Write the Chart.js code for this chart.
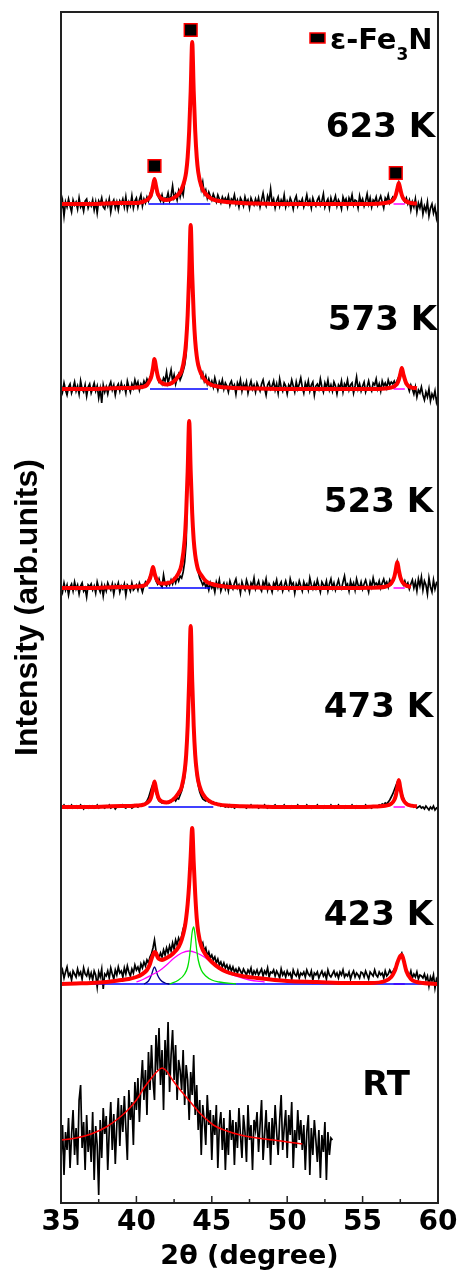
<!DOCTYPE html>
<html>
<head>
<meta charset="utf-8">
<title>XRD patterns</title>
<script src="https://cdn.jsdelivr.net/npm/chart.js@4/dist/chart.umd.min.js"></script>
<style>
  html, body { margin: 0; padding: 0; background: #fff; }
  canvas { display: block; }
</style>
</head>
<body>
<canvas id="xrd" width="461" height="1276"></canvas>
<script>
'use strict';

const panelLabels = ['623 K', '573 K', '523 K', '473 K', '423 K', 'RT'];
const legendText = ['ε-Fe', '3', 'N'];

// scans: 2θ from 35 in 0.1 steps, intensity above each pattern's baseline
const scanStart = 35, scanStep = 0.1;
const scan623 = [
  -6, 3, -12, 2, -3, 5, -2, -8, 4, -1,
  2, -5, 6, -3, 0, -7, 3, 5, -4, 1,
  -2, 4, -6, 2, -9, 3, 0, 6, -3, -5,
  3, -2, 5, -8, 1, 4, -4, 2, -6, 3,
  0, 5, -3, 7, -5, 2, -2, 8, -4, 3,
  6, -3, 4, 9, -2, 5, 1, 7, 3, 10,
  8, 15, 23, 17, 9, 6, 3, 9, 2, 6,
  5, 11, 3, 8, 18, 6, 10, 4, 13, 7,
  14, 9, 22, 30, 45, 70, 110, 160, 110, 70,
  45, 30, 26, 15, 22, 10, 14, 6, 12, 8,
  4, 10, 6, 2, 9, 5, 1, 7, 3, 6,
  2, 8, -1, 5, 3, 9, 0, 4, -3, 6,
  3, -2, 7, 1, 4, -4, 6, 2, -1, 5,
  0, 6, -3, 4, 11, 2, -2, 8, 3, 15,
  1, 5, -4, 3, 7, -2, 4, 0, 9, -3,
  3, -1, 6, 2, -5, 4, 8, -2, 3, 1,
  5, -3, 2, 9, 0, 4, -4, 6, 1, -2,
  4, 7, -1, 3, 10, -3, 2, 5, -4, 6,
  0, 3, 8, -2, 4, 1, -5, 7, 2, 5,
  -3, 6, 2, 9, -1, 4, 3, -4, 8, 1,
  5, -2, 3, 10, 0, 6, -3, 4, 2, 7,
  -1, 4, 8, 2, -4, 6, 3, 9, 1, 4,
  7, 5, 9, 14, 21, 13, 8, 5, 2, 6,
  0, 4, -6, 2, -3, 5, -8, 1, -4, 3,
  -10, -2, -7, 2, -12, -4, 0, -9, -3, -14,
  -6
];
const scan573 = [
  4, -3, 6, -1, -6, 2, 5, -4, 1, 7,
  -2, 3, -5, 8, 0, -3, 4, -7, 2, 5,
  -4, 1, 6, -2, 3, -9, 0, -14, 4, -3,
  2, -5, 3, 7, -1, 4, -6, 2, 5, -2,
  6, 0, 3, -4, 8, 2, -3, 5, 1, 9,
  3, 7, -1, 5, 2, 8, 4, 10, 6, 12,
  14, 20, 28, 21, 12, 7, 9, 5, 11, 8,
  17, 6, 12, 19, 8, 14, 5, 11, 15, 9,
  13, 18, 24, 35, 70, 112, 162, 112, 72, 46,
  33, 24, 20, 12, 16, 8, 13, 5, 10, 4,
  8, 2, 11, 5, -1, 7, 3, 9, 0, 6,
  3, -3, 5, 8, 1, 4, -5, 6, 2, 9,
  -2, 5, 1, 7, -4, 3, 8, 0, 4, -3,
  6, 2, -2, 5, 9, 1, -6, 4, 7, 0,
  3, 8, -1, 5, -4, 10, 2, -2, 6, 3,
  -5, 4, 1, 9, 3, -3, 7, 0, 5, 11,
  2, -4, 6, 1, 8, -2, 4, 7, -6, 3,
  5, 0, 10, 2, -3, 6, 1, 9, -1, 4,
  -2, 7, 3, -5, 4, 1, 8, -3, 5, 2,
  9, -1, 4, 6, -4, 3, 12, 0, 5, -2,
  3, 7, -3, 2, 8, 1, -2, 6, 4, 10,
  0, 5, -2, 8, 3, 6, 1, 9, 4, 7,
  5, 8, 4, 9, 12, 15, 20, 14, 8, 5,
  3, -2, 4, 0, -5, 2, -8, -1, -4, 2,
  -6, -11, -3, -8, 0, -12, -5, -9, -2, -13,
  -7
];
const scan523 = [
  2, -4, 5, -2, 3, -7, 1, 4, -3, 6,
  -1, 3, -6, 2, 5, -3, 0, -9, 3, 1,
  4, -2, 2, -5, 6, 0, -4, 3, -8, 2,
  -3, 5, 1, -2, 4, -6, 3, 0, 5, -4,
  2, -1, 4, -7, 3, 1, -3, 5, -2, 0,
  3, -2, 5, 1, -4, 2, 6, 3, 8, 12,
  14, 19, 12, 7, 4, 9, 3, 1, 13, 4,
  2, 6, 3, 8, 4, 9, 5, 11, 7, 12,
  10, 16, 26, 45, 112, 165, 112, 70, 44, 30,
  22, 16, 10, 7, 3, 6, 1, 4, -2, 5,
  0, 3, -4, 6, 1, 8, -3, 2, 5, -1,
  4, -3, 7, 2, -1, 5, 9, 0, 3, -5,
  6, 1, -2, 8, 3, -4, 5, 2, 10, -1,
  3, 7, 0, -3, 6, 2, 9, -2, 4, 1,
  -4, 5, 2, 8, -1, 3, 6, -3, 2, 7,
  1, -2, 9, 3, 5, -5, 4, 0, 7, 2,
  -3, 6, 1, 4, -2, 10, 3, -1, 5, 0,
  8, 2, -4, 6, 3, 1, 7, -3, 4, 9,
  0, 5, -2, 3, 8, 1, -1, 6, 12, 2,
  4, -3, 7, 1, 5, -2, 9, 3, 0, 6,
  -1, 4, 8, 2, -4, 6, 1, 10, 3, 5,
  2, 7, 0, 5, 9, 3, 6, 1, 8, 4,
  7, 10, 17, 26, 18, 11, 6, 3, 7, 2,
  5, -1, 4, 8, 0, 6, -3, 9, 2, 11,
  -2, 7, 3, -6, 10, 1, -4, 8, -1, 5,
  3
];
const scan473 = [
  1, 0, 2, 0, -1, 1, 0, 2, -1, 0,
  1, -1, 0, 2, 0, -2, 1, 0, -1, 1,
  0, 1, -1, 0, 2, -1, 0, 1, 0, -1,
  1, 0, 2, -1, 0, 1, -2, 0, 1, 0,
  0, 2, 0, -1, 1, 0, 1, -1, 0, 2,
  1, 0, 2, 1, 3, 2, 4, 6, 9, 14,
  19, 23, 21, 15, 9, 6, 5, 4, 5, 4,
  5, 4, 6, 5, 7, 8, 6, 9, 8, 12,
  16, 22, 30, 44, 76, 120, 178, 120, 76, 45,
  31, 22, 15, 11, 8, 7, 6, 7, 5, 6,
  4, 5, 3, 4, 2, 3, 1, 2, 1, 0,
  1, 0, 2, 0, 1, -1, 0, 1, 0, 1,
  0, 1, 0, -1, 1, 0, 2, 0, 1, 0,
  1, -1, 0, 1, 0, 2, 0, -1, 1, 0,
  0, 1, 2, 0, -1, 0, 1, 0, 2, 0,
  1, 0, -1, 1, 0, 1, 0, 2, 0, -1,
  0, 1, 0, 2, 0, 1, -1, 0, 1, 0,
  2, 0, 1, 0, -1, 1, 0, 1, 0, 2,
  0, -1, 1, 0, 2, 0, 1, 0, -1, 1,
  0, 1, 0, 2, 0, -1, 1, 0, 1, 0,
  1, 0, 2, 0, 1, 0, -1, 1, 0, 1,
  0, 2, 1, 3, 2, 4, 3, 5, 7, 10,
  13, 17, 21, 25, 26, 20, 14, 9, 6, 4,
  3, 2, 1, 2, 0, 1, -1, 0, 1, -1,
  0, -2, 1, -1, -3, 0, -2, 1, -3, -1,
  -2
];
const scan423 = [
  9, 14, 6, 12, 17, 8, 11, 4, 13, 10,
  7, 15, 9, 12, 5, 16, 10, 8, 14, 6,
  11, 4, 13, 9, -3, 12, 7, 15, -5, 10,
  8, 13, 6, 16, 10, 5, 14, 9, 17, 11,
  13, 7, 16, 10, 18, 12, 8, 15, 11, 19,
  14, 17, 12, 20, 16, 22, 18, 24, 21, 27,
  30, 36, 44, 33, 29, 26, 31, 27, 34, 29,
  36, 31, 38, 33, 41, 35, 44, 39, 46, 42,
  48, 55, 60, 68, 84, 104, 130, 154, 118, 84,
  64, 52, 44, 38, 41, 33, 36, 28, 32, 26,
  29, 24, 27, 21, 25, 19, 22, 17, 21, 16,
  19, 14, 18, 13, 17, 12, 15, 11, 16, 13,
  10, 15, 12, 9, 14, 11, 16, 8, 13, 10,
  14, 9, 12, 15, 8, 13, 10, 16, 7, 12,
  11, 14, 8, 13, 10, 6, 15, 9, 12, 7,
  13, 9, 11, 5, 14, 10, 8, 13, 6, 11,
  9, 12, 7, 14, 10, 8, 13, 4, 11, 9,
  12, 6, 10, 13, 8, 11, 5, 14, 9, 7,
  10, 13, 8, 11, 6, 12, 9, 14, 7, 10,
  8, 12, 5, 10, 13, 7, 11, 9, 6, 12,
  11, 7, 13, 9, 5, 12, 10, 8, 14, 9,
  7, 12, 9, 11, 6, 13, 8, 10, 14, 11,
  12, 15, 17, 21, 24, 28, 31, 26, 19, 14,
  11, 8, 13, 6, 10, 7, 12, 5, 9, 8,
  6, 10, 4, 8, -2, 7, 3, 9, -4, 5,
  2
];
const scanRT = [
  -20, 15, -35, 8, -10, 22, -28, 5, 30, -15,
  12, -25, 40, 55, -8, 18, -30, 25, -12, 10,
  -22, 28, -40, 14, -5, -55, 20, -18, 32, 6,
  24, -30, 10, 38, -10, 26, -24, 15, 42, -6,
  35, 8, 44, 12, -20, 50, 20, 38, -5, 58,
  30, 62, 18, 55, 80, 40, 70, 25, 88, 50,
  95, 60, 40, 105, 70, 112, 55, 90, 30, 100,
  65, 118, 48, 85, 110, 60, 95, 40, 80, 70,
  50, 90, 35, 75, 60, 20, 68, 45, 85, 25,
  55, 10, 40, -15, 35, 20, -5, 45, 15, 30,
  -20, 25, 5, 35, -28, 15, 28, -10, 22, -30,
  12, -15, 30, 0, 20, -25, 18, -8, 32, 5,
  -18, 25, 8, -22, 35, 0, 15, -30, 20, 10,
  28, -12, 15, 40, -20, 5, 30, -8, 18, -25,
  22, -5, 35, 8, -15, 20, 45, -10, 12, 30,
  -18, 25, 5, 38, -28, 10, -8, 30, 0, 20,
  -10, 15, -30, 8, 25, -35, 12, -15, 20, 0,
  -22, 10, -38, 5, -12, 18, -40, 8, -15, 2,
  0
];

// fitted profiles (red)
const fitX = [
  35, 36, 37, 38, 39, 39.5, 40, 40.4, 40.7, 40.9,
  41.0, 41.1, 41.2, 41.3, 41.4, 41.5, 41.7, 42.0, 42.4, 42.8,
  43.0, 43.2, 43.3, 43.4, 43.5, 43.6, 43.7, 43.8, 43.9, 44.0,
  44.1, 44.3, 44.6, 45.0, 45.5, 46, 47, 48, 50, 52,
  54, 55.5, 56.5, 56.9, 57.1, 57.2, 57.3, 57.4, 57.5, 57.6,
  57.7, 57.9, 58.2, 58.6, 59, 60
];
const fit623 = [
  0, 0, 0, 0.5, 1, 1, 1, 2, 4, 7,
  11, 18, 25, 18, 11, 8, 5, 4, 5.5, 10,
  15, 24, 32, 47, 73, 113, 162, 113, 73, 47,
  32, 18, 10, 5, 3, 2, 1, 0.5, 0, 0,
  0, 0, 1, 2.5, 5.5, 9, 15, 21, 15, 9,
  5.5, 2.5, 1, 0.5, null, null
];
const fit573 = [
  0, 0, 0, 0.5, 1, 1, 1.5, 2, 4, 9,
  13, 21, 30, 22, 14, 9, 6, 4.5, 6.5, 13,
  18, 33, 48, 74, 115, 164, 115, 74, 48, 33,
  24, 15, 8, 4, 2.2, 1.4, 0.7, 0.5, 0, 0,
  0, 0, 0.6, 1.5, 2.5, 3.8, 5.5, 9, 15, 21,
  15, 5.5, 1.8, 0.7, null, null
];
const fit523 = [
  0, 0, 0, 0.5, 1, 1, 1.5, 2, 4.5, 9.5,
  15, 21, 15, 10, 7, 5, 4.5, 4.7, 7, 15,
  24, 48, 75, 117, 167, 117, 75, 48, 33, 24,
  18, 13, 7, 4, 2.2, 1.3, 0.7, 0.4, 0, 0,
  0, 0.3, 1.3, 4.7, 11, 18, 26, 18, 11, 7,
  4.7, 2.3, 1.1, null, null, null
];
const fit473 = [
  0, 0, 0, 0.5, 1, 1, 1.5, 2, 4, 7,
  11, 18, 25.5, 18.5, 12, 8, 5.5, 4.5, 7, 14,
  20, 36, 52, 81, 127, 181, 127, 81, 52, 36,
  26, 16, 9, 4.5, 2.4, 1.5, 0.8, 0.5, 0, 0,
  0, 0.3, 1.2, 3.2, 7, 11.3, 19, 27, 19, 11.3,
  7, 3.2, 1.4, 0.7, null, null
];
const fit423 = [
  0, 0.5, 1, 2, 4, 5, 7, 10, 14, 20,
  25, 29, 32, 31, 27, 25, 24, 26, 30, 37,
  44, 56, 66, 80, 100, 128, 156, 122, 90, 66,
  52, 38, 29, 22, 16, 12, 8, 6, 3, 2,
  1, 1, 3, 7, 12, 16, 21, 25, 28, 29,
  25, 13, 5, 2, 1, 0
];
const rtFitX = [35, 36, 37, 38, 39, 39.5, 40, 40.5, 41, 41.4, 41.7, 42, 42.4, 42.8, 43.3, 43.8, 44.2, 44.7, 45.1, 46, 46.9, 48, 49.1, 50, 51];
const rtFit = [0, 2, 6, 13, 24, 31, 40, 52, 62, 69, 72, 69, 60, 52, 43, 34, 27, 20, 15, 9, 5, 2, 0, -2, -4];

// 423 K components
const green423X = [42.2, 42.8, 43.2, 43.4, 43.5, 43.6, 43.7, 43.8, 43.9, 44.0, 44.1, 44.3, 44.6, 45.0, 45.5, 46.6];
const green423 = [0, 4, 10, 17, 25, 38, 52, 57, 48, 34, 24, 14, 8, 4, 2, 0];
const magenta423X = [40.0, 40.5, 41.0, 41.5, 42.0, 42.5, 43.0, 43.5, 44.0, 44.5, 45.0, 45.5, 46.0, 46.8, 47.5, 48.5];
const magenta423 = [2, 5, 9, 13, 19, 26, 31, 33, 31, 27, 21, 15, 11, 7, 4, 2];
const navy423X = [40.5, 40.8, 41.0, 41.1, 41.2, 41.3, 41.4, 41.6, 41.9, 42.2];
const navy423 = [0, 3, 9, 14, 17, 14, 9, 4, 1, 0];

// background ranges (blue) and right-peak background (magenta)
const bgRanges = [[40.8, 44.9], [40.9, 44.75], [40.8, 44.9], [40.8, 45.1], [36.9, 60]];
const bgRight = [57.05, 57.8];

// ε-Fe3N reflections marked on the 623 K pattern
const peakX = [41.2, 43.6, 57.2];
const peakY = [38, 174, 31];

// vertical stacking of the patterns
const panelOffsets = [999, 814, 615, 396, 219, 63];
const scans = [scan623, scan573, scan523, scan473, scan423];
const fits = [fit623, fit573, fit523, fit473, fit423];

function pts(xs, ys, off) {
  return ys.map((v, i) => ({ x: xs[i], y: v === null ? null : v + off }));
}
function scanPts(ys, off) {
  return ys.map((v, i) => ({ x: +(scanStart + i * scanStep).toFixed(2), y: v + off }));
}
function line(data, color, width, order, extra) {
  return Object.assign({
    data: data, showLine: true, borderColor: color, borderWidth: width,
    pointRadius: 0, order: order, spanGaps: false
  }, extra || {});
}

const datasets = [];
scans.forEach((s, i) => {
  const off = panelOffsets[i];
  datasets.push(line(scanPts(s, off), '#000', 1.7, 6));
  datasets.push(line(pts(bgRanges[i], [0, 0], off), '#0000ff', 1.5, 5));
  datasets.push(line(pts(bgRight, [0, 0], off), '#ff00ff', 1.5, 5));
  datasets.push(line(pts(fitX, fits[i], off), '#ff0000', 4, 2,
    { cubicInterpolationMode: 'monotone', borderJoinStyle: 'round' }));
});
const o423 = panelOffsets[4];
datasets.push(line(pts(green423X, green423, o423), '#00e000', 1.3, 4, { cubicInterpolationMode: 'monotone' }));
datasets.push(line(pts(magenta423X, magenta423, o423), '#ff00ff', 1.3, 4, { cubicInterpolationMode: 'monotone' }));
datasets.push(line(pts(navy423X, navy423, o423), '#000080', 1.3, 4, { cubicInterpolationMode: 'monotone' }));
// RT
datasets.push(line(scanPts(scanRT, panelOffsets[5]), '#000', 1.7, 6));
datasets.push(line(pts(rtFitX, rtFit, panelOffsets[5]), '#ff0000', 1.5, 2, { cubicInterpolationMode: 'monotone' }));
// reflection markers
datasets.push({
  data: pts(peakX, peakY, panelOffsets[0]), showLine: false, order: 1,
  pointStyle: 'rect', pointRadius: 9, pointBackgroundColor: '#000',
  pointBorderColor: '#ff0000', pointBorderWidth: 1.5
});

const labelRight = [435, 437, 433, 433, 433, 410];
const labelBase = [137, 330, 512, 717, 925, 1095];

const framePlugin = {
  id: 'frame',
  afterDatasetsDraw(chart) {
    const { ctx, chartArea: a, scales: { x } } = chart;
    ctx.save();
    ctx.strokeStyle = '#222';
    ctx.lineWidth = 2;
    ctx.strokeRect(a.left, a.top, a.right - a.left, a.bottom - a.top);
    // inward ticks on the 2θ axis
    ctx.lineWidth = 1.5;
    x.ticks.forEach(t => {
      const px = x.getPixelForValue(t.value);
      const len = t.value % 5 === 0 ? 7 : 4;
      ctx.beginPath();
      ctx.moveTo(px, a.bottom);
      ctx.lineTo(px, a.bottom - len);
      ctx.stroke();
    });
    // temperatures
    ctx.fillStyle = '#000';
    ctx.font = 'bold 34px "DejaVu Sans"';
    ctx.textAlign = 'right';
    ctx.textBaseline = 'alphabetic';
    panelLabels.forEach((s, i) => ctx.fillText(s, labelRight[i], labelBase[i]));
    // legend
    ctx.fillStyle = '#000';
    ctx.fillRect(310, 33, 15, 10);
    ctx.strokeStyle = '#ff0000';
    ctx.lineWidth = 1.5;
    ctx.strokeRect(310, 33, 15, 10);
    ctx.textAlign = 'left';
    let tx = 330;
    ctx.font = 'bold 29px "DejaVu Sans"';
    ctx.fillText(legendText[0], tx, 49);
    tx += ctx.measureText(legendText[0]).width;
    ctx.font = 'bold 17px "DejaVu Sans"';
    ctx.fillText(legendText[1], tx, 60);
    tx += ctx.measureText(legendText[1]).width;
    ctx.font = 'bold 29px "DejaVu Sans"';
    ctx.fillText(legendText[2], tx, 49);
    ctx.restore();
  }
};

new Chart(document.getElementById('xrd'), {
  type: 'scatter',
  data: { datasets: datasets },
  options: {
    responsive: false,
    animation: false,
    devicePixelRatio: 1,
    events: [],
    layout: { padding: { left: 0, right: 23, top: 12, bottom: 0 } },
    plugins: { legend: { display: false }, tooltip: { enabled: false } },
    scales: {
      x: {
        type: 'linear', min: 35, max: 60,
        grid: { display: false, drawTicks: false },
        border: { display: false },
        ticks: {
          stepSize: 2.5, autoSkip: false, maxRotation: 0, minRotation: 0, padding: 3,
          color: '#000', font: { family: 'DejaVu Sans', weight: 'bold', size: 28 },
          callback: v => (v % 5 === 0 ? String(v) : '')
        },
        title: {
          display: true, text: '2θ (degree)', color: '#000',
          font: { family: 'DejaVu Sans', weight: 'bold', size: 27 },
          padding: { top: 0, bottom: 3 }
        },
        afterFit: s => { s.height = 73; }
      },
      y: {
        type: 'linear', min: 0, max: 1191,
        grid: { display: false, drawTicks: false },
        border: { display: false },
        ticks: { display: false },
        title: {
          display: true, text: 'Intensity (arb.units)', color: '#000',
          font: { family: 'Liberation Sans', weight: 'bold', size: 32 },
          padding: { top: 9, bottom: 0 }
        },
        afterFit: s => { s.width = 61; }
      }
    }
  },
  plugins: [framePlugin]
});
</script>
</body>
</html>
